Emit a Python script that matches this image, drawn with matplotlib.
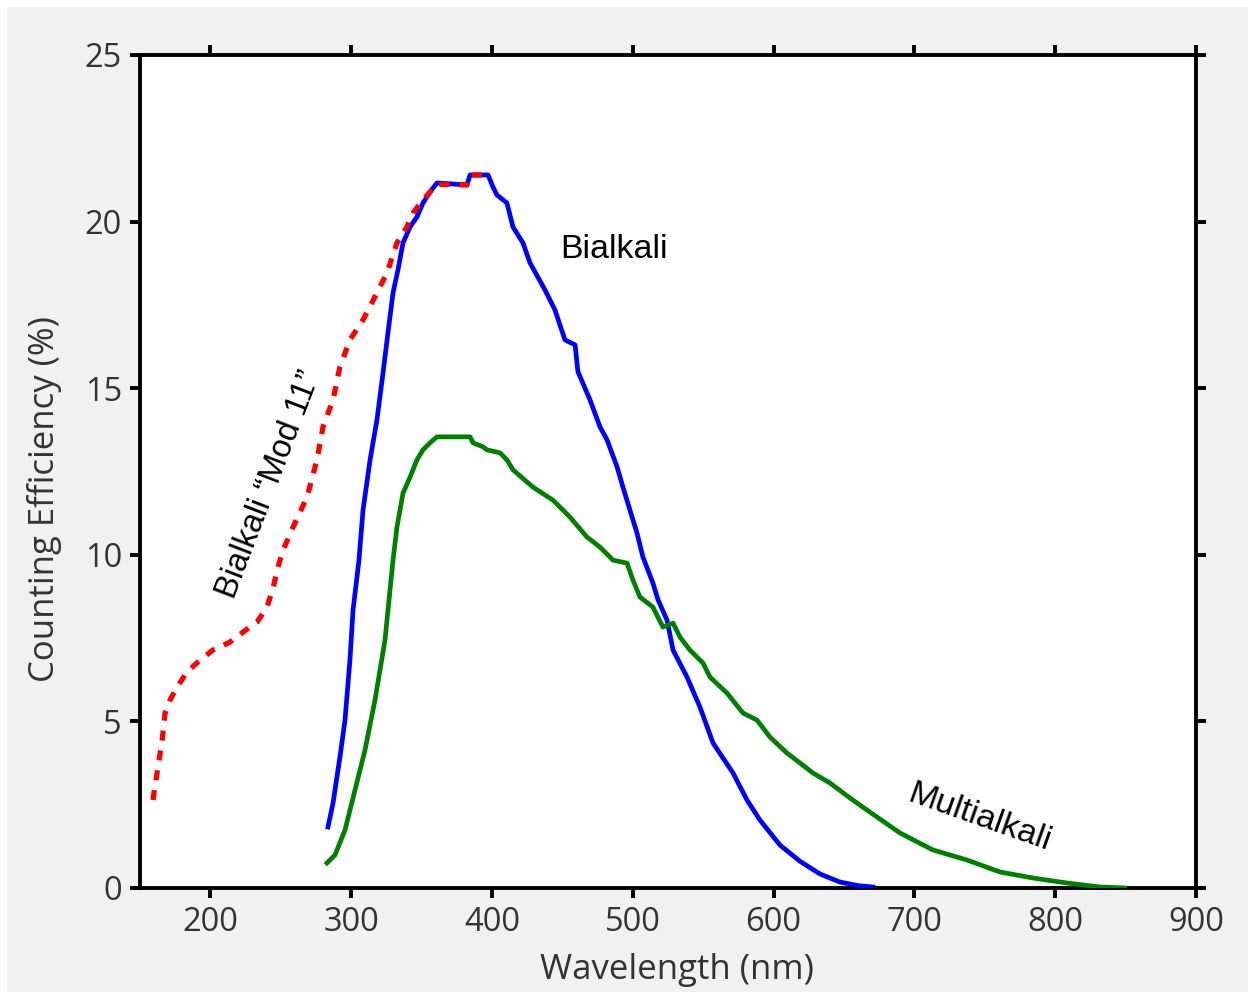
import numpy as np
import matplotlib.pyplot as plt
from matplotlib.patches import Rectangle

# wavelength (nm) / counting efficiency (%)
mod11_wl = [159.2, 162.1, 165.6, 167.8, 171.3, 176.3, 183.4, 192.6, 201.8, 213.9,
            223.2, 233.1, 240.2, 244.5, 248.0, 251.6, 258.7, 268.6, 275.7, 280.0,
            287.1, 292.0, 299.1, 308.4, 318.3, 325.4, 332.5, 339.6, 343.9, 351.0,
            360.9, 382.2, 384.4, 397.2, 398.6]
mod11_eff = [2.64, 3.45, 4.38, 5.25, 5.64, 6.03, 6.48, 6.84, 7.14, 7.38,
             7.68, 7.98, 8.43, 9.00, 9.63, 10.14, 10.83, 11.73, 12.85, 13.84,
             14.65, 15.64, 16.45, 17.05, 17.86, 18.46, 19.36, 19.84, 20.26, 20.65,
             21.12, 21.10, 21.40, 21.40, 21.30]

bialkali_wl = [283.5, 287.1, 292.0, 295.6, 299.1, 301.3, 304.1, 305.5, 308.4, 313.4,
               318.3, 322.6, 326.1, 329.7, 333.2, 336.8, 341.8, 346.7, 351.0, 356.0,
               360.9, 382.2, 384.4, 397.2, 400.7, 403.5, 410.6, 414.9, 422.0, 427.0,
               437.6, 444.7, 451.8, 459.0, 461.0, 469.6, 476.7, 481.7, 488.8, 493.0,
               498.0, 503.0, 507.2, 514.3, 518.0, 524.3, 528.6, 538.5, 547.7, 557.0,
               571.2, 581.1, 590.3, 604.5, 618.8, 633.0, 647.0, 660.0, 670.6]
bialkali_eff = [1.83, 2.55, 3.93, 5.04, 6.84, 8.34, 9.33, 9.84, 11.34, 12.85,
                14.05, 15.46, 16.66, 17.86, 18.55, 19.36, 19.84, 20.14, 20.56, 20.89,
                21.16, 21.10, 21.40, 21.40, 21.04, 20.80, 20.56, 19.84, 19.36, 18.76,
                17.95, 17.35, 16.45, 16.30, 15.50, 14.65, 13.84, 13.45, 12.64, 12.03,
                11.34, 10.65, 9.93, 9.15, 8.64, 8.04, 7.14, 6.33, 5.43, 4.35,
                3.45, 2.64, 2.04, 1.29, 0.80, 0.42, 0.18, 0.07, 0.03]

multi_wl = [282.8, 288.5, 295.6, 302.7, 309.8, 316.9, 324.0, 329.7, 332.5, 336.8,
            341.8, 346.7, 351.0, 356.0, 360.9, 384.4, 386.5, 393.6, 396.4, 405.7,
            410.6, 414.9, 429.1, 443.3, 455.4, 467.5, 476.7, 485.9, 495.9, 500.1,
            505.1, 514.3, 521.4, 528.6, 533.5, 540.6, 549.9, 554.8, 566.9, 578.3,
            588.2, 597.4, 609.5, 618.8, 628.0, 640.1, 654.3, 666.3, 689.8, 713.2,
            737.4, 760.8, 784.2, 808.4, 831.8, 849.6]
multi_eff = [0.75, 0.99, 1.74, 2.94, 4.14, 5.64, 7.44, 9.84, 10.83, 11.85,
             12.33, 12.85, 13.15, 13.36, 13.54, 13.54, 13.36, 13.24, 13.15, 13.06,
             12.85, 12.55, 12.03, 11.64, 11.13, 10.53, 10.23, 9.84, 9.75, 9.24,
             8.73, 8.43, 7.83, 7.95, 7.53, 7.14, 6.75, 6.33, 5.85, 5.25,
             5.04, 4.53, 4.05, 3.75, 3.45, 3.15, 2.70, 2.34, 1.65, 1.14,
             0.84, 0.48, 0.30, 0.15, 0.03, 0.0]

xticks = [200, 300, 400, 500, 600, 700, 800, 900]
yticks = [0, 5, 10, 15, 20, 25]

W, H = 1248, 997
fig = plt.figure(figsize=(W / 100, H / 100), dpi=100, facecolor='white')
fig.patches.append(Rectangle((7 / W, 5 / H), 1 - 7 / W, 1 - 12 / H,
                             transform=fig.transFigure, facecolor='#f1f1f1',
                             edgecolor='none', zorder=-10))

ax = fig.add_axes([140 / W, 1 - 888 / H, 1056 / W, 833 / H])
ax.set_facecolor('white')

ax.plot(bialkali_wl, bialkali_eff, color='#0000ff', lw=3.4, zorder=3)
ax.plot(multi_wl, multi_eff, color='#008000', lw=3.4, zorder=3)
ax.plot(mod11_wl, mod11_eff, color='#ff0000', lw=3.8, linestyle=(0, (1.9, 1.9)), zorder=4)

ax.set_xlim(150, 900)
ax.set_ylim(0, 25)
ax.set_xticks(xticks)
ax.set_yticks(yticks)

for s in ax.spines.values():
    s.set_linewidth(2.8)
ax.tick_params(direction='out', length=7, width=2.8, top=True, right=True,
               labelsize=23.5, labelcolor='#333333', pad=6)
for lab in ax.get_xticklabels() + ax.get_yticklabels():
    lab.set_family('Open Sans')

ax.set_xlabel('Wavelength (nm)', fontsize=25, color='#333333', family='Open Sans', labelpad=10)
ax.set_ylabel('Counting Efficiency (%)', fontsize=25, color='#333333', family='Open Sans', labelpad=16)
ax.xaxis.label.set_x(0.5085)
ax.yaxis.label.set_y(0.467)

ann = dict(fontsize=24.5, family='Liberation Sans', color='black', ha='center', va='center')
ax.text(487, 19.15, 'Bialkali', **ann)
ax.text(242, 12.1, 'Bialkali \u201cMod 11\u201d', rotation=69, fontsize=23.5,
        family='Liberation Sans', color='black', ha='center', va='center')
ax.text(746, 2.1, 'Multialkali', rotation=-19.5, **ann)

fig.savefig('out.png', dpi=100, facecolor=fig.get_facecolor())
